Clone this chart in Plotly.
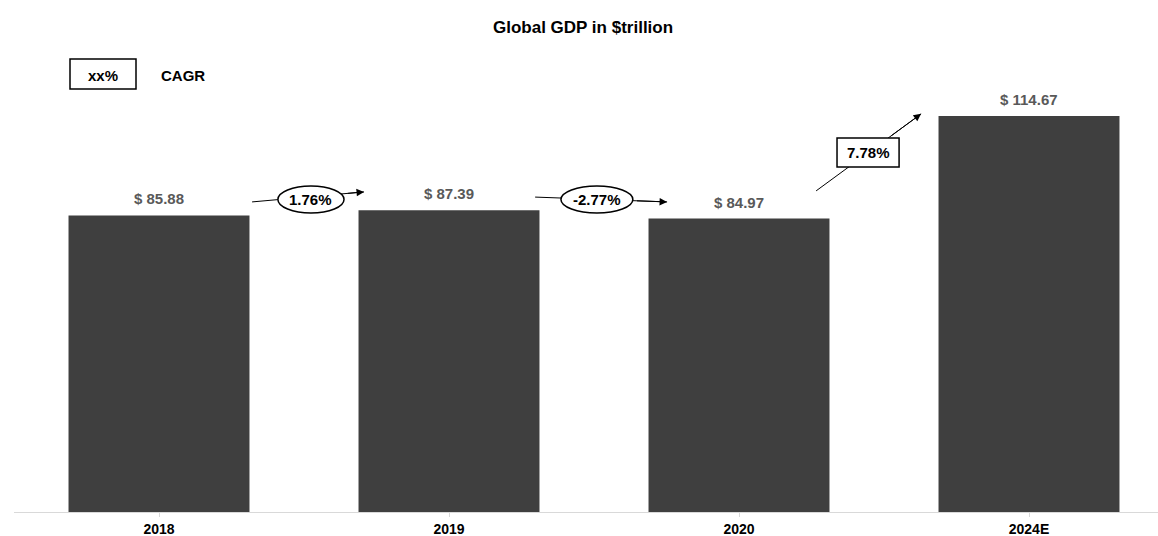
import plotly.graph_objects as go

# Global GDP, $ trillion
years = ["2018", "2019", "2020", "2024E"]
gdp = [85.88, 87.39, 84.97, 114.67]
cagr_labels = ["1.76%", "-2.77%", "7.78%"]

FONT = "Liberation Sans, Arial, sans-serif"
BAR_COLOR = "#3f3f3f"
LABEL_GREY = "#595959"

W, H = 1158, 536
ML, MB = 14, 24
PX_PER_CAT = 290.0
plot_h = H - MB
PX_PER_UNIT = 3.453
y_top = plot_h / PX_PER_UNIT
x_hi = -0.5 + (W - ML) / PX_PER_CAT

fig = go.Figure()
fig.add_trace(go.Bar(
    x=list(range(len(years))), y=gdp,
    marker=dict(color=BAR_COLOR, line=dict(width=0)),
    width=0.624, hoverinfo="skip",
))

annotations = []
shapes = []

# value labels above each bar
for i, v in enumerate(gdp):
    annotations.append(dict(
        x=i, y=v, xref="x", yref="y", text=f"<b>$ {v:.2f}</b>",
        showarrow=False, xanchor="center", yanchor="bottom", yshift=6,
        font=dict(family=FONT, size=15, color=LABEL_GREY),
    ))

# CAGR arrows between bars: (tail x, tail y, head x, head y)
arrows = [
    (0.321, 89.8, 0.707, 92.7),
    (1.297, 91.2, 1.752, 89.8),
    (2.266, 93.0, 2.628, 115.3),
]
# rate badges: ellipses for the first two, a box for the forecast
badges = [
    ("circle", 0.410, 0.638, 86.6, 94.4),
    ("circle", 1.386, 1.634, 86.6, 94.4),
    ("rect", 2.338, 2.552, 99.9, 108.3),
]

# arrow shafts sit underneath the badges
for (x0, y0, x1, y1) in arrows:
    shapes.append(dict(
        type="line", xref="x", yref="y", x0=x0, y0=y0, x1=x1, y1=y1,
        line=dict(color="#000000", width=1), layer="above",
    ))

for (kind, bx0, bx1, by0, by1), lab in zip(badges, cagr_labels):
    shapes.append(dict(
        type=kind, xref="x", yref="y", x0=bx0, x1=bx1, y0=by0, y1=by1,
        fillcolor="white", line=dict(color="#000000", width=1.5), layer="above",
    ))
    annotations.append(dict(
        x=(bx0 + bx1) / 2, y=(by0 + by1) / 2, xref="x", yref="y",
        text=f"<b>{lab}</b>", showarrow=False, xanchor="center", yanchor="middle",
        font=dict(family=FONT, size=15, color="#000000"),
    ))

# arrowheads: short segment from where the shaft leaves the badge to the tip
for (x0, y0, x1, y1), (_, bx0, bx1, by0, by1) in zip(arrows, badges):
    ts = []
    dx, dy = x1 - x0, y1 - y0
    if dx:
        ts.append((bx1 - x0) / dx if dx > 0 else (bx0 - x0) / dx)
    if dy:
        ts.append((by1 - y0) / dy if dy > 0 else (by0 - y0) / dy)
    t = min(ts) + 0.02
    annotations.append(dict(
        x=x1, y=y1, ax=x0 + t * dx, ay=y0 + t * dy,
        xref="x", yref="y", axref="x", ayref="y",
        text="", showarrow=True, arrowhead=2, arrowsize=1.5, arrowwidth=1,
        arrowcolor="#000000",
    ))

# key in the top-left corner
def px_x(p):
    return (p - ML) / (W - ML)

def px_y(p):
    return (plot_h - p) / plot_h

shapes.append(dict(
    type="rect", xref="paper", yref="paper",
    x0=px_x(70), x1=px_x(136), y0=px_y(89), y1=px_y(59),
    fillcolor="white", line=dict(color="#000000", width=1.5),
))
annotations.append(dict(
    x=px_x(103), y=px_y(75), xref="paper", yref="paper", text="<b>xx%</b>",
    showarrow=False, xanchor="center", yanchor="middle",
    font=dict(family=FONT, size=15, color="#000000"),
))
annotations.append(dict(
    x=px_x(159), y=px_y(75), xref="paper", yref="paper", text="<b>CAGR</b>",
    showarrow=False, xanchor="left", yanchor="middle",
    font=dict(family=FONT, size=15, color="#000000"),
))

# chart title
annotations.append(dict(
    x=px_x(583), y=px_y(27), xref="paper", yref="paper",
    text="<b>Global GDP in $trillion</b>", showarrow=False,
    xanchor="center", yanchor="middle",
    font=dict(family=FONT, size=17, color="#000000"),
))

fig.update_layout(
    width=W, height=H,
    margin=dict(l=ML, r=0, t=0, b=MB, autoexpand=False),
    paper_bgcolor="white", plot_bgcolor="white",
    showlegend=False,
    annotations=annotations, shapes=shapes,
    xaxis=dict(
        range=[-0.5, x_hi], tickmode="array",
        tickvals=list(range(len(years))), ticktext=[f"<b>{y}</b>" for y in years],
        tickson="boundaries", ticks="outside", ticklen=4, tickcolor="#d9d9d9",
        showline=True, linecolor="#d9d9d9", linewidth=1,
        showgrid=False, zeroline=False, automargin=False,
        tickfont=dict(family=FONT, size=14, color="#000000"),
        fixedrange=True,
    ),
    yaxis=dict(
        range=[0, y_top], visible=False, showgrid=False, zeroline=False,
        fixedrange=True,
    ),
)

fig.write_html("out.html")
